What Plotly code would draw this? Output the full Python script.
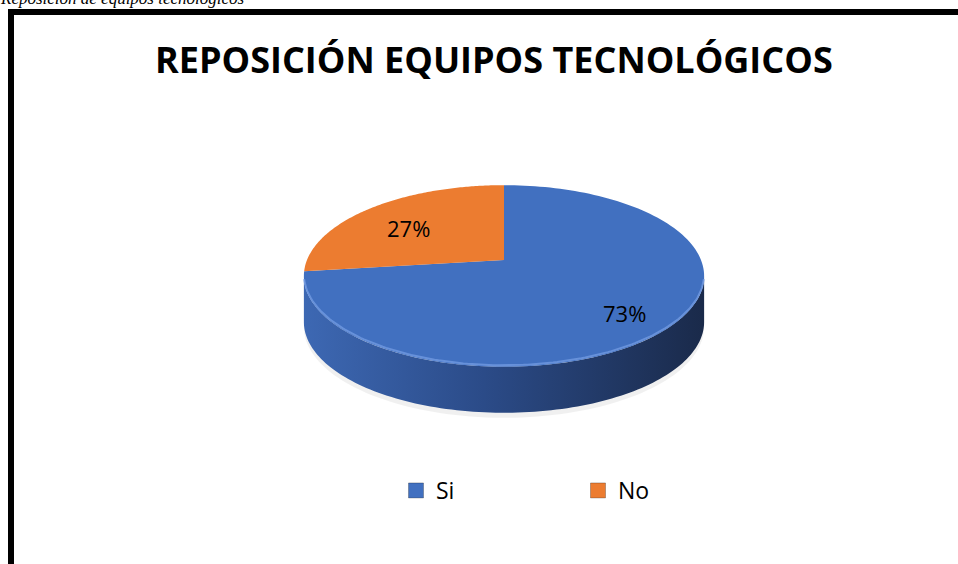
import numpy as np
import plotly.graph_objects as go

# data
categorias = ["Si", "No"]
valores = [73, 27]
colores_top = ["#4170C0", "#EC7C30"]
colores_lado = [[[0, "#3d68b3"], [0.45, "#2b4b88"], [1, "#1a2a4a"]],
                [[0, "#c8652a"], [1, "#8a4317"]]]

titulo = "REPOSICIÓN EQUIPOS TECNOLÓGICOS"
leyenda_fig = "Reposición de equipos tecnológicos"

W, H = 958, 564
# 3D pie geometry (pixel units)
cx, cy = 504, 260
rx, ry = 197, 88
p = 0.176          # perspective
depth = 46


def proj(theta, dy=0):
    # theta clockwise from 12 o'clock
    w = 1 / (1 + p * np.cos(theta))
    x = cx + rx * np.sin(theta) * w
    y = cy - ry * np.cos(theta) * w + dy
    return x, y


total = sum(valores)
frac = np.array(valores) / total
ends = np.cumsum(frac) * 2 * np.pi
starts = ends - frac * 2 * np.pi

fig = go.Figure()

# soft shadow
t = np.linspace(0, 2 * np.pi, 200)
sx, sy = proj(t, depth + 5)
fig.add_trace(go.Scatter(x=sx, y=sy, fill="toself", mode="none",
                         fillcolor="rgba(0,0,0,0.06)", showlegend=False, hoverinfo="skip"))

# side walls
th1 = np.arccos(-p)
th2 = 2 * np.pi - th1
for i in range(len(valores)):
    a = max(starts[i], th1)
    b = min(ends[i], th2)
    if b <= a:
        continue
    tt = np.linspace(a, b, 120)
    x_top, y_top = proj(tt)
    x_bot, y_bot = proj(tt[::-1], depth)
    fig.add_trace(go.Scatter(
        x=np.concatenate([x_top, x_bot]), y=np.concatenate([y_top, y_bot]),
        fill="toself", mode="none",
        fillgradient=dict(type="horizontal", colorscale=colores_lado[i]),
        showlegend=False, hoverinfo="skip"))

# top faces
for i in range(len(valores)):
    tt = np.linspace(starts[i], ends[i], 150)
    x_arc, y_arc = proj(tt)
    fig.add_trace(go.Scatter(
        x=np.concatenate([[cx], x_arc, [cx]]), y=np.concatenate([[cy], y_arc, [cy]]),
        fill="toself", mode="none", fillcolor=colores_top[i],
        showlegend=False, hoverinfo="skip"))

# rim highlight
tt = np.linspace(th1 + 0.05, th2 - 0.05, 150)
hx, hy = proj(tt, -1.5)
fig.add_trace(go.Scatter(x=hx, y=hy, mode="lines", line=dict(color="rgba(120,160,230,0.7)", width=2),
                         showlegend=False, hoverinfo="skip"))

# percentage labels
mid = (starts + ends) / 2
for i in range(len(valores)):
    lw = 1 / (1 + p * np.cos(mid[i]))
    lx = cx + 0.72 * rx * np.sin(mid[i]) * lw
    ly = cy + 6 - 0.72 * ry * np.cos(mid[i]) * lw
    fig.add_annotation(x=lx, y=ly, text=f"{valores[i]}%", showarrow=False,
                       font=dict(family="Open Sans", size=22, color="black"))

# legend entries
for i in range(len(valores)):
    fig.add_trace(go.Scatter(x=[None], y=[None], mode="markers", name=categorias[i],
                             marker=dict(symbol="square", size=15, color=colores_top[i],
                                         line=dict(color="rgba(0,0,0,0.25)", width=1))))

fig.add_annotation(x=494, y=59, text=f"<b>{titulo}</b>", showarrow=False,
                   font=dict(family="Open Sans", size=36, color="black"))
fig.add_annotation(x=0, y=1, xref="paper", yref="paper", xanchor="left", yanchor="bottom",
                   xshift=-2, yshift=-10, text=leyenda_fig, showarrow=False,
                   font=dict(family="Liberation Serif", size=17, color="black", style="italic"))

# frame
fig.add_shape(type="rect", x0=11, y0=12, x1=W + 20, y1=H + 20,
              line=dict(color="black", width=6), fillcolor="rgba(0,0,0,0)")

fig.update_layout(
    width=W, height=H,
    margin=dict(l=0, r=0, t=0, b=0),
    paper_bgcolor="white", plot_bgcolor="white",
    xaxis=dict(range=[0, W], visible=False, fixedrange=True),
    yaxis=dict(range=[H, 0], visible=False, fixedrange=True),
    legend=dict(orientation="h", x=396 / W, y=1 - 469 / H, xanchor="left", yanchor="top",
                entrywidth=137, entrywidthmode="pixels", itemwidth=30,
                font=dict(family="Open Sans", size=23, color="black"),
                bgcolor="rgba(0,0,0,0)"),
    showlegend=True,
)

fig.write_html("out.html", config={"displayModeBar": False},
               post_script="document.body.style.margin='0';")
